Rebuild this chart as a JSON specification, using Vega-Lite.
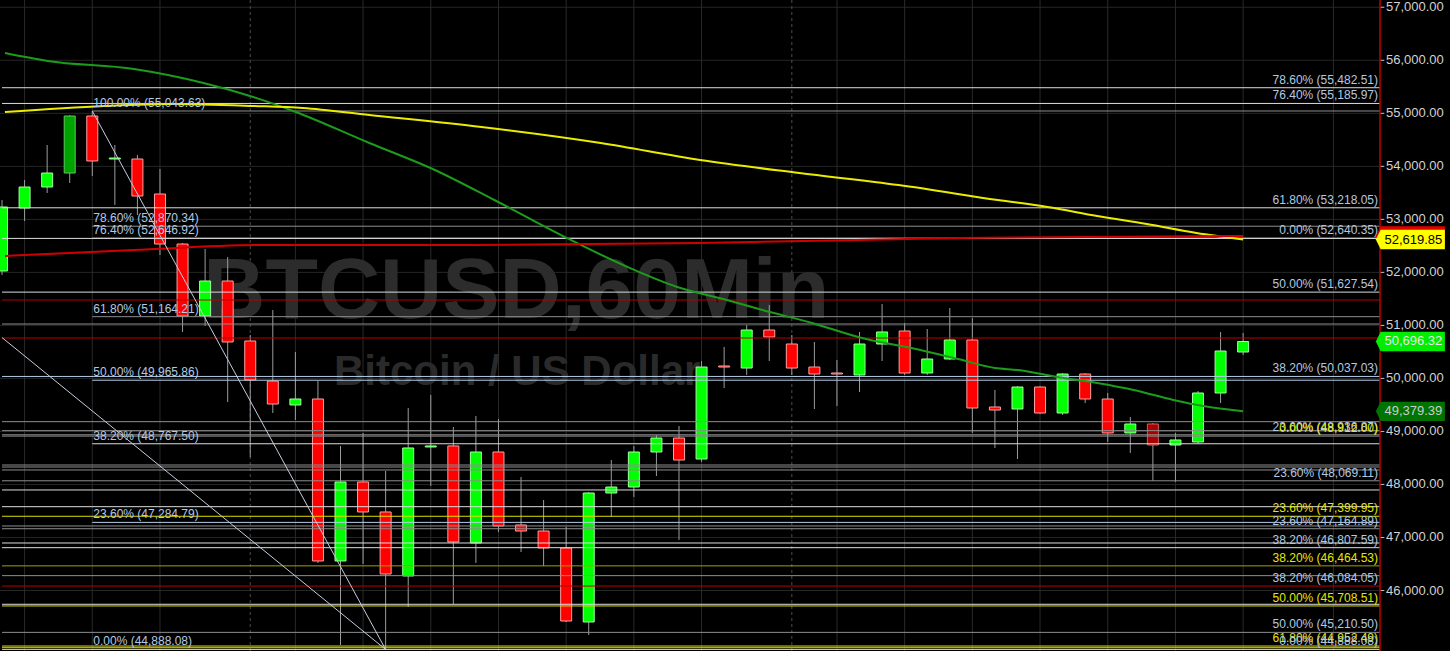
{
  "$schema": "https://vega.github.io/schema/vega-lite/v6.json",
  "width": 1385,
  "height": 651,
  "autosize": {"type": "none"},
  "padding": {"left": 0, "top": 0, "right": 65, "bottom": 0},
  "background": "#000000",
  "config": {"view": {"stroke": null}, "font": "Liberation Sans"},
  "datasets": {
    "candles": [
      {"i":0,"o":52026,"h":53365,"l":51951,"c":53233},
      {"i":1,"o":53214,"h":53742,"l":52969,"c":53610},
      {"i":2,"o":53610,"h":54402,"l":53497,"c":53874},
      {"i":3,"o":53874,"h":54968,"l":53686,"c":54949},
      {"i":4,"o":54949,"h":55043.63,"l":53818,"c":54101},
      {"i":5,"o":54138,"h":54402,"l":53271,"c":54157},
      {"i":6,"o":54138,"h":54214,"l":53082,"c":53440},
      {"i":7,"o":53478,"h":53950,"l":52328,"c":52535},
      {"i":8,"o":52535,"h":52554,"l":50875,"c":51177},
      {"i":9,"o":51177,"h":52441,"l":50989,"c":51837},
      {"i":10,"o":51837,"h":52290,"l":49555,"c":50687},
      {"i":11,"o":50706,"h":50819,"l":48518,"c":49970},
      {"i":12,"o":49951,"h":51290,"l":49348,"c":49517},
      {"i":13,"o":49499,"h":50498,"l":49216,"c":49612},
      {"i":14,"o":49612,"h":49951,"l":46519,"c":46557},
      {"i":15,"o":46557,"h":48726,"l":44972,"c":48047},
      {"i":16,"o":48047,"h":48971,"l":46500,"c":47481},
      {"i":17,"o":47481,"h":48254,"l":44888.08,"c":46311},
      {"i":18,"o":46274,"h":49442,"l":45689,"c":48688},
      {"i":19,"o":48707,"h":49688,"l":47971,"c":48726},
      {"i":20,"o":48726,"h":49084,"l":45746,"c":46915},
      {"i":21,"o":46896,"h":49291,"l":46519,"c":48612},
      {"i":22,"o":48612,"h":49235,"l":47104,"c":47217},
      {"i":23,"o":47236,"h":48141,"l":46726,"c":47122},
      {"i":24,"o":47122,"h":47707,"l":46462,"c":46802},
      {"i":25,"o":46802,"h":47198,"l":45406,"c":45425},
      {"i":26,"o":45406,"h":47858,"l":45161,"c":47839},
      {"i":27,"o":47839,"h":48461,"l":47386,"c":47952},
      {"i":28,"o":47952,"h":48726,"l":47764,"c":48612},
      {"i":29,"o":48612,"h":48933,"l":48160,"c":48876},
      {"i":30,"o":48876,"h":49103,"l":46953,"c":48461},
      {"i":31,"o":48480,"h":50329,"l":48424,"c":50215},
      {"i":32,"o":50234,"h":50593,"l":49819,"c":50215},
      {"i":33,"o":50196,"h":51007,"l":50065,"c":50913},
      {"i":34,"o":50913,"h":51385,"l":50329,"c":50781},
      {"i":35,"o":50649,"h":50819,"l":50065,"c":50196},
      {"i":36,"o":50215,"h":50687,"l":49423,"c":50083},
      {"i":37,"o":50102,"h":50347,"l":49480,"c":50083},
      {"i":38,"o":50065,"h":50876,"l":49744,"c":50649},
      {"i":39,"o":50649,"h":51404,"l":50329,"c":50876},
      {"i":40,"o":50894,"h":51045,"l":50065,"c":50102},
      {"i":41,"o":50102,"h":50932,"l":50065,"c":50366},
      {"i":42,"o":50366,"h":51328,"l":50347,"c":50725},
      {"i":43,"o":50725,"h":51139,"l":48971,"c":49442},
      {"i":44,"o":49461,"h":49782,"l":48688,"c":49404},
      {"i":45,"o":49423,"h":49857,"l":48480,"c":49838},
      {"i":46,"o":49838,"h":49857,"l":49329,"c":49348},
      {"i":47,"o":49348,"h":50102,"l":49310,"c":50083},
      {"i":48,"o":50083,"h":50102,"l":49536,"c":49612},
      {"i":49,"o":49612,"h":49725,"l":48801,"c":48971},
      {"i":50,"o":48971,"h":49273,"l":48593,"c":49140},
      {"i":51,"o":49140,"h":49159,"l":48070,"c":48744},
      {"i":52,"o":48744,"h":48971,"l":48047,"c":48839},
      {"i":53,"o":48801,"h":49763,"l":48763,"c":49725},
      {"i":54,"o":49725,"h":50876,"l":49536,"c":50517},
      {"i":55,"o":50498,"h":50857,"l":50442,"c":50696.32}
    ],
    "levels": [
      {"p":55043.63,"t":"100.00% (55,043.63)","side":"L","ink":"b","k":"g","from":4},
      {"p":52870.34,"t":"78.60% (52,870.34)","side":"L","ink":"b","k":"g","from":4},
      {"p":52646.92,"t":"76.40% (52,646.92)","side":"L","ink":"b","k":"g","from":4},
      {"p":51164.21,"t":"61.80% (51,164.21)","side":"L","ink":"b","k":"g","from":4},
      {"p":49965.86,"t":"50.00% (49,965.86)","side":"L","ink":"b","k":"b","from":4},
      {"p":48767.50,"t":"38.20% (48,767.50)","side":"L","ink":"b","k":"w","from":4},
      {"p":47284.79,"t":"23.60% (47,284.79)","side":"L","ink":"b","k":"b","from":4},
      {"p":44888.08,"t":"0.00% (44,888.08)","side":"L","ink":"b","k":"b","from":4},
      {"p":55482.51,"t":"78.60% (55,482.51)","side":"R","ink":"b","k":"w","from":0},
      {"p":55185.97,"t":"76.40% (55,185.97)","side":"R","ink":"b","k":"w","from":0},
      {"p":53218.05,"t":"61.80% (53,218.05)","side":"R","ink":"b","k":"w","from":0},
      {"p":52640.35,"t":"0.00% (52,640.35)","side":"R","ink":"b","k":"w","from":0},
      {"p":51627.54,"t":"50.00% (51,627.54)","side":"R","ink":"b","k":"w","from":0},
      {"p":50037.03,"t":"38.20% (50,037.03)","side":"R","ink":"b","k":"b","from":0},
      {"p":48936.87,"t":"23.60% (48,936.87)","side":"R","ink":"b","k":"g","from":0},
      {"p":48912.00,"t":"0.00% (48,912.00)","side":"R","ink":"y","k":"g","from":0},
      {"p":48069.11,"t":"23.60% (48,069.11)","side":"R","ink":"b","k":"g","from":0},
      {"p":47399.95,"t":"23.60% (47,399.95)","side":"R","ink":"y","k":"y","from":0},
      {"p":47164.89,"t":"23.60% (47,164.89)","side":"R","ink":"b","k":"g","from":0},
      {"p":46807.59,"t":"38.20% (46,807.59)","side":"R","ink":"b","k":"w","from":0},
      {"p":46464.53,"t":"38.20% (46,464.53)","side":"R","ink":"y","k":"dy","from":0},
      {"p":46084.05,"t":"38.20% (46,084.05)","side":"R","ink":"b","k":"r","from":0},
      {"p":45708.51,"t":"50.00% (45,708.51)","side":"R","ink":"y","k":"y","from":0},
      {"p":45210.50,"t":"50.00% (45,210.50)","side":"R","ink":"b","k":"g","from":0},
      {"p":44952.49,"t":"61.80% (44,952.49)","side":"R","ink":"y","k":"y","from":0},
      {"p":44888.08,"t":"0.00% (44,888.08)","side":"R","ink":"b","k":"y","from":0},
      {"p":51479,"t":"","side":"N","ink":"b","k":"r","from":0},
      {"p":51026,"t":"","side":"N","ink":"b","k":"g","from":0},
      {"p":50762,"t":"","side":"N","ink":"b","k":"r","from":0},
      {"p":49184,"t":"","side":"N","ink":"b","k":"g","from":0},
      {"p":49015,"t":"","side":"N","ink":"b","k":"g","from":0},
      {"p":48367,"t":"","side":"N","ink":"b","k":"g","from":0},
      {"p":48329,"t":"","side":"N","ink":"b","k":"g","from":0},
      {"p":48273,"t":"","side":"N","ink":"b","k":"g","from":0},
      {"p":47896,"t":"","side":"N","ink":"b","k":"w","from":0},
      {"p":47581,"t":"","side":"N","ink":"b","k":"w","from":0},
      {"p":47217,"t":"","side":"N","ink":"b","k":"g","from":0},
      {"p":46896,"t":"","side":"N","ink":"b","k":"w","from":0},
      {"p":46280,"t":"","side":"N","ink":"b","k":"g","from":0},
      {"p":45740,"t":"","side":"N","ink":"b","k":"w","from":0},
      {"p":44921,"t":"","side":"N","ink":"b","k":"y","from":0}
    ],
    "ma": [
      {"ma":"g","i":0.13,"p":56137},{"ma":"g","i":2.02,"p":55987},{"ma":"g","i":5.85,"p":55836},
      {"ma":"g","i":8.93,"p":55572},{"ma":"g","i":11.13,"p":55308},{"ma":"g","i":13.02,"p":55025},
      {"ma":"g","i":16.28,"p":54440},{"ma":"g","i":19.18,"p":53931},{"ma":"g","i":21.82,"p":53365},
      {"ma":"g","i":25.21,"p":52611},{"ma":"g","i":27.72,"p":52101},{"ma":"g","i":29.92,"p":51724},
      {"ma":"g","i":32.12,"p":51479},{"ma":"g","i":33.70,"p":51290},{"ma":"g","i":35.90,"p":51045},
      {"ma":"g","i":38.10,"p":50762},{"ma":"g","i":40.30,"p":50574},{"ma":"g","i":42.37,"p":50366},
      {"ma":"g","i":44.00,"p":50197},{"ma":"g","i":45.01,"p":50159},{"ma":"g","i":46.77,"p":50027},
      {"ma":"g","i":48.53,"p":49914},{"ma":"g","i":50.15,"p":49782},{"ma":"g","i":51.91,"p":49593},
      {"ma":"g","i":53.23,"p":49480},{"ma":"g","i":55,"p":49379.39},
      {"ma":"y","i":0.13,"p":55025},{"ma":"y","i":4.53,"p":55138},{"ma":"y","i":7.48,"p":55176},
      {"ma":"y","i":11.13,"p":55138},{"ma":"y","i":13.33,"p":55100},{"ma":"y","i":16.28,"p":54968},
      {"ma":"y","i":21.25,"p":54742},{"ma":"y","i":26.53,"p":54440},{"ma":"y","i":30.93,"p":54119},
      {"ma":"y","i":35.33,"p":53874},{"ma":"y","i":39.73,"p":53648},{"ma":"y","i":44.13,"p":53365},
      {"ma":"y","i":46.33,"p":53233},{"ma":"y","i":48.53,"p":53063},{"ma":"y","i":50.73,"p":52912},
      {"ma":"y","i":52.93,"p":52743},{"ma":"y","i":55,"p":52619.85},
      {"ma":"r","i":0.13,"p":52309},{"ma":"r","i":5.85,"p":52422},{"ma":"r","i":11.57,"p":52516},
      {"ma":"r","i":20.37,"p":52516},{"ma":"r","i":30.93,"p":52554},{"ma":"r","i":42.37,"p":52648},
      {"ma":"r","i":55,"p":52686}
    ],
    "diag": [
      {"d":"a","i":4,"p":55043.63},{"d":"a","i":17,"p":44888.08},
      {"d":"b","i":0,"p":50770},{"d":"b","i":17,"p":44888.08}
    ],
    "vgrid": [{"i":1},{"i":4},{"i":7},{"i":13},{"i":16},{"i":19},{"i":22},{"i":25},{"i":28},{"i":31},{"i":37},{"i":40},{"i":43},{"i":46},{"i":49},{"i":52},{"i":55},{"i":59}],
    "sessions": [{"i": 11}, {"i": 35}],
    "ticks": [{"p":46000},{"p":47000},{"p":48000},{"p":49000},{"p":50000},{"p":51000},{"p":52000},{"p":53000},{"p":54000},{"p":55000},{"p":56000},{"p":57000}],
    "boxes": [
      {"p":52686,"t":"","b":"r"},
      {"p":52619.85,"t":"52,619.85","b":"y"},
      {"p":50696.32,"t":"50,696.32","b":"g"},
      {"p":49379.39,"t":"49,379.39","b":"dg"}
    ]
  },
  "resolve": {"scale": {"color": "independent"}},
  "layer": [
    {
      "data": {"name": "ticks"},
      "mark": {"type": "rule", "color": "#262626", "strokeWidth": 1},
      "encoding": {
        "y": {"field": "p", "type": "quantitative", "axis": null,
          "scale": {"domain": [44859, 57137], "nice": false, "zero": false}}
      }
    },
    {
      "data": {"name": "vgrid"},
      "mark": {"type": "rule", "color": "#2a2a2a", "strokeWidth": 1},
      "encoding": {
        "x": {"field": "i", "type": "quantitative", "axis": null,
          "scale": {"domain": [0.132, 61.065], "nice": false, "zero": false}}
      }
    },
    {
      "data": {"name": "sessions"},
      "mark": {"type": "rule", "color": "#4c4c4c", "strokeWidth": 1, "strokeDash": [3, 3]},
      "encoding": {"x": {"field": "i", "type": "quantitative", "axis": null}}
    },
    {
      "data": {"values": [{"t": "BTCUSD,60Min"}]},
      "mark": {"type": "text", "fontSize": 86, "fontWeight": "bold", "color": "#2c2c2c", "align": "center", "baseline": "alphabetic"},
      "encoding": {"x": {"datum": 22.79, "type": "quantitative", "axis": null}, "y": {"datum": 51139, "type": "quantitative", "axis": null}, "text": {"field": "t"}}
    },
    {
      "data": {"values": [{"t": "Bitcoin / US Dollar"}]},
      "mark": {"type": "text", "fontSize": 42, "fontWeight": "bold", "color": "#2a2a2a", "align": "center", "baseline": "alphabetic"},
      "encoding": {"x": {"datum": 22.83, "type": "quantitative", "axis": null}, "y": {"datum": 49876, "type": "quantitative", "axis": null}, "text": {"field": "t"}}
    },
    {
      "data": {"name": "candles"},
      "mark": {"type": "rule", "color": "#9c9c9c", "strokeWidth": 1, "clip": true},
      "encoding": {
        "x": {"field": "i", "type": "quantitative", "axis": null},
        "y": {"field": "l", "type": "quantitative", "axis": null},
        "y2": {"field": "h"}
      }
    },
    {
      "data": {"name": "candles"},
      "mark": {"type": "bar", "size": 11, "strokeWidth": 1, "clip": true},
      "encoding": {
        "x": {"field": "i", "type": "quantitative", "axis": null},
        "y": {"field": "o", "type": "quantitative", "axis": null},
        "y2": {"field": "c"},
        "color": {"condition": [
          {"test": "datum.i == 3", "value": "#00a400"},
          {"test": "datum.i == 51", "value": "#a80000"},
          {"test": "datum.c >= datum.o", "value": "#00ff00"}], "value": "#ff0000"},
        "stroke": {"condition": [
          {"test": "datum.i == 3", "value": "#5cc85c"},
          {"test": "datum.i == 51", "value": "#c86060"},
          {"test": "datum.c >= datum.o", "value": "#a0ffa0"}], "value": "#ffa0a0"}
      }
    },
    {
      "data": {"name": "levels"},
      "mark": {"type": "rule", "strokeWidth": 1, "clip": true},
      "encoding": {
        "x": {"field": "from", "type": "quantitative", "axis": null},
        "x2": {"datum": 61.065},
        "y": {"field": "p", "type": "quantitative", "axis": null},
        "color": {"field": "k", "type": "nominal", "legend": null,
          "scale": {"domain": ["w", "g", "b", "y", "dy", "r"], "range": ["#dcdcdc", "#8e8e8e", "#b4cce6", "#dede00", "#a0a000", "#b80000"]}}
      }
    },
    {
      "data": {"name": "ma"},
      "mark": {"type": "line", "strokeWidth": 2, "clip": true, "interpolate": "monotone"},
      "encoding": {
        "x": {"field": "i", "type": "quantitative", "axis": null},
        "y": {"field": "p", "type": "quantitative", "axis": null},
        "color": {"field": "ma", "type": "nominal", "legend": null,
          "scale": {"domain": ["g", "y", "r"], "range": ["#1c9c1c", "#ecec00", "#d00000"]}}
      }
    },
    {
      "data": {"name": "diag"},
      "mark": {"type": "line", "strokeWidth": 1, "clip": true, "color": "#c4cede"},
      "encoding": {
        "x": {"field": "i", "type": "quantitative", "axis": null},
        "y": {"field": "p", "type": "quantitative", "axis": null},
        "detail": {"field": "d"}
      }
    },
    {
      "data": {"name": "levels"},
      "transform": [{"filter": "datum.side == 'L'"}],
      "mark": {"type": "text", "align": "left", "baseline": "alphabetic", "dx": 1, "dy": -4, "fontSize": 12, "color": "#b4c8e2"},
      "encoding": {
        "x": {"field": "from", "type": "quantitative", "axis": null},
        "y": {"field": "p", "type": "quantitative", "axis": null},
        "text": {"field": "t"}
      }
    },
    {
      "data": {"name": "levels"},
      "transform": [{"filter": "datum.side == 'R'"}],
      "mark": {"type": "text", "align": "right", "baseline": "alphabetic", "dx": -2, "dy": -4, "fontSize": 12},
      "encoding": {
        "x": {"datum": 61.065, "type": "quantitative", "axis": null},
        "y": {"field": "p", "type": "quantitative", "axis": null},
        "text": {"field": "t"},
        "color": {"condition": {"test": "datum.ink == 'y'", "value": "#e6e600"}, "value": "#b4c8e2"}
      }
    },
    {
      "data": {"values": [{"edge": "price axis"}]},
      "mark": {"type": "rule", "color": "#c00000", "strokeWidth": 1.5},
      "encoding": {"x": {"datum": 61.065, "type": "quantitative", "axis": null}}
    },
    {
      "data": {"name": "ticks"},
      "mark": {"type": "rule", "color": "#bbbbbb", "strokeWidth": 1},
      "encoding": {
        "x": {"datum": 61.1, "type": "quantitative", "axis": null},
        "x2": {"datum": 61.25},
        "y": {"field": "p", "type": "quantitative", "axis": null}
      }
    },
    {
      "data": {"name": "ticks"},
      "mark": {"type": "text", "align": "left", "baseline": "middle", "dx": 6, "fontSize": 13, "color": "#d2d2d2"},
      "encoding": {
        "x": {"datum": 61.065, "type": "quantitative", "axis": null},
        "y": {"field": "p", "type": "quantitative", "axis": null},
        "text": {"field": "p", "type": "quantitative", "format": ",.2f"}
      }
    },
    {
      "data": {"name": "boxes"},
      "mark": {"type": "point", "filled": true, "opacity": 1, "size": 4761, "strokeWidth": 0,
        "shape": "M -1 0 L -0.86 -0.28 L 1 -0.28 L 1 0.28 L -0.86 0.28 Z"},
      "encoding": {
        "x": {"datum": 62.41, "type": "quantitative", "axis": null},
        "y": {"field": "p", "type": "quantitative", "axis": null},
        "color": {"condition": [
          {"test": "datum.b == 'r'", "value": "#e00000"},
          {"test": "datum.b == 'y'", "value": "#ffff00"},
          {"test": "datum.b == 'g'", "value": "#00ee00"}], "value": "#007400"}
      }
    },
    {
      "data": {"name": "boxes"},
      "mark": {"type": "text", "align": "center", "baseline": "middle", "dx": 3, "fontSize": 13},
      "encoding": {
        "x": {"datum": 62.41, "type": "quantitative", "axis": null},
        "y": {"field": "p", "type": "quantitative", "axis": null},
        "text": {"field": "t"},
        "color": {"condition": [
          {"test": "datum.b == 'y'", "value": "#000000"},
          {"test": "datum.b == 'g'", "value": "#e8e8e8"}], "value": "#cccccc"}
      }
    }
  ]
}
